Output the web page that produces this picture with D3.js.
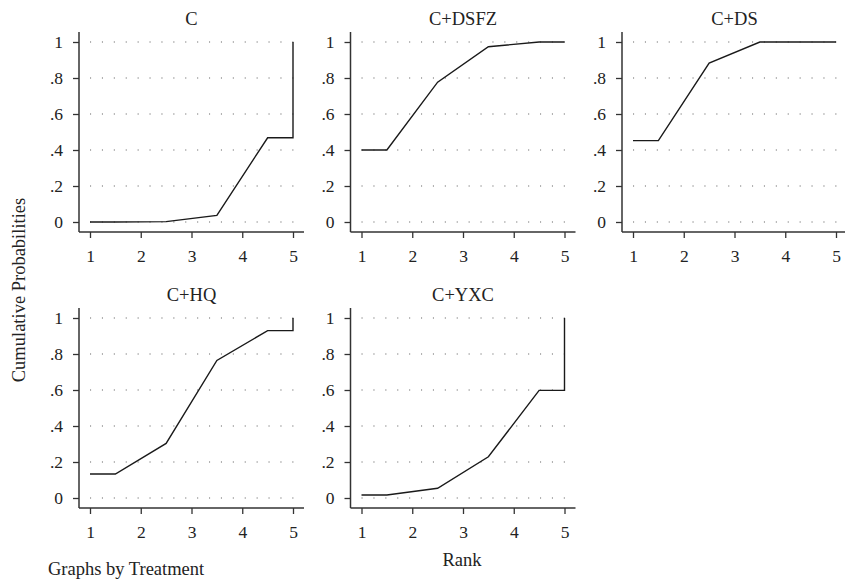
<!DOCTYPE html>
<html>
<head>
<meta charset="utf-8">
<script src="https://cdn.jsdelivr.net/npm/d3@7"></script>
<style>
  html, body { margin: 0; padding: 0; background: #fff; }
  svg { display: block; }
  text { font-family: "Liberation Serif", "DejaVu Serif", serif; fill: #222; }
</style>
</head>
<body>
<svg id="chart" width="845" height="579"></svg>
<script>
// Cumulative rank probabilities by treatment
const treatments = ["C", "C+DSFZ", "C+DS", "C+HQ", "C+YXC"];
const rankPoints = [1, 1.5, 2.5, 3.5, 4.5, 5, 5];
const cumC     = [0.000, 0.000, 0.002, 0.037, 0.468, 0.468, 1.000];
const cumDSFZ  = [0.400, 0.400, 0.777, 0.974, 1.000, 1.000, 1.000];
const cumDS    = [0.452, 0.452, 0.883, 1.000, 1.000, 1.000, 1.000];
const cumHQ    = [0.133, 0.133, 0.303, 0.764, 0.930, 0.930, 1.000];
const cumYXC   = [0.017, 0.017, 0.054, 0.229, 0.598, 0.598, 1.000];
const seriesValues = [cumC, cumDSFZ, cumDS, cumHQ, cumYXC];
const rankTicks = [1, 2, 3, 4, 5];
const probTicks = [0, 0.2, 0.4, 0.6, 0.8, 1];
const probTickLabels = ["0", ".2", ".4", ".6", ".8", "1"];

const svg = d3.select("#chart");

// panel geometry
const panelW = 225, panelH = 200;
const panelLeft0 = 79, panelStepX = 271.5;
const panelTop0 = 32, panelStepY = 276;
const pad = 11;

const x = d3.scaleLinear().domain([1, 5]).range([pad, panelW - pad]);
const y = d3.scaleLinear().domain([0, 1]).range([panelH - 10, 10]);

const line = d3.line().x(d => x(d[0])).y(d => y(d[1]));

treatments.forEach((name, i) => {
  const col = i % 3, row = Math.floor(i / 3);
  const g = svg.append("g")
    .attr("transform", `translate(${panelLeft0 + col * panelStepX},${panelTop0 + row * panelStepY})`);

  // dotted grid
  g.append("g").selectAll("line").data(probTicks).join("line")
    .attr("x1", x(1)).attr("x2", x(5) + 4)
    .attr("y1", d => y(d)).attr("y2", d => y(d))
    .attr("stroke", "#666").attr("stroke-width", 1.1)
    .attr("stroke-dasharray", "1.1,10.8");

  // axes
  const xAxis = g.append("g").attr("transform", `translate(0,${panelH})`)
    .call(d3.axisBottom(x).tickValues(rankTicks).tickFormat(d3.format("d"))
      .tickSizeOuter(0).tickSize(6).tickPadding(12));
  const yAxis = g.append("g")
    .call(d3.axisLeft(y).tickValues(probTicks)
      .tickFormat((d, k) => probTickLabels[k])
      .tickSizeOuter(0).tickSize(6).tickPadding(10));
  [xAxis, yAxis].forEach(a => {
    a.select(".domain").remove();
    a.selectAll(".tick line").attr("stroke", "#333").attr("stroke-width", 1.3);
    a.selectAll("text").attr("font-size", 17.5).attr("fill", "#222")
      .style("font-family", '"Liberation Serif", serif');
  });
  g.append("line").attr("x1", 0).attr("x2", panelW).attr("y1", panelH).attr("y2", panelH)
    .attr("stroke", "#333").attr("stroke-width", 1.5);
  g.append("line").attr("x1", 0).attr("x2", 0).attr("y1", 0).attr("y2", panelH)
    .attr("stroke", "#333").attr("stroke-width", 1.5);

  // series line
  const pts = rankPoints.map((r, k) => [r, seriesValues[i][k]]);
  g.append("path").datum(pts).attr("d", line)
    .attr("fill", "none").attr("stroke", "#1a1a1a").attr("stroke-width", 1.4)
    .attr("stroke-linejoin", "miter");

  // panel title
  g.append("text").attr("x", panelW / 2).attr("y", -7)
    .attr("text-anchor", "middle").attr("font-size", 18.5).text(name);
});

// shared labels
svg.append("text").attr("x", 462).attr("y", 566)
  .attr("text-anchor", "middle").attr("font-size", 18.5).text("Rank");
svg.append("text").attr("transform", "translate(25,290) rotate(-90)")
  .attr("text-anchor", "middle").attr("font-size", 18.5).text("Cumulative Probabilities");
svg.append("text").attr("x", 48).attr("y", 575)
  .attr("font-size", 18.5).text("Graphs by Treatment");
</script>
</body>
</html>
